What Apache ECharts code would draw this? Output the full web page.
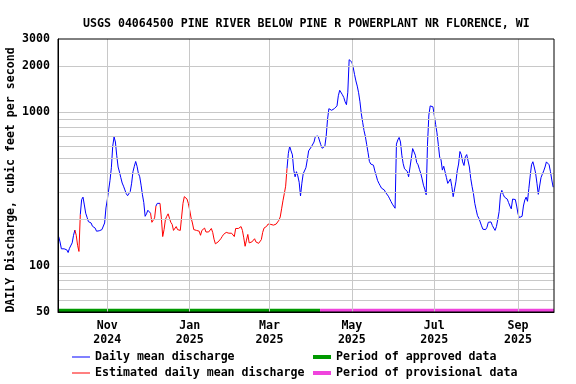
<!DOCTYPE html>
<html><head><meta charset="utf-8">
<script src="https://cdn.jsdelivr.net/npm/echarts@6/dist/echarts.min.js"></script>
<style>html,body{margin:0;padding:0;background:#fff}#c{width:576px;height:384px}</style>
</head><body><div id="c"></div>
<script>
const titleText = 'USGS 04064500 PINE RIVER BELOW PINE R POWERPLANT NR FLORENCE, WI';
const yAxisTitle = 'DAILY Discharge, cubic feet per second';
const firstDay = '2024-09-26';
// daily mean discharge, cfs, one value per day starting at firstDay
const discharge = [
155,143,129,129,129,129,127,122,130,133,
141,158,171,158,136,124,215,270,280,249,
220,207,194,194,190,181,180,176,168,166,
169,173,172,170,190,238,270,270,360,435,
600,690,640,520,440,408,375,346,330,312,
295,286,285,305,345,410,445,478,445,400,
380,335,290,258,210,218,230,228,220,192,
188,205,245,255,258,255,205,155,172,200,
210,218,204,192,186,170,172,180,172,173,
170,168,255,282,286,272,254,230,205,190,
172,170,170,168,168,158,170,172,176,166,
163,166,170,175,165,149,139,139,143,147,
150,155,160,162,165,165,163,165,163,163,
155,175,180,175,172,180,170,152,134,147,
160,141,141,143,145,150,143,140,140,140,
148,165,176,178,181,187,185,186,182,184,
188,187,190,198,208,235,265,295,330,430,
540,600,560,528,420,380,410,385,350,285,
345,398,405,435,490,560,560,595,580,640,
695,700,700,685,615,583,570,600,700,900,
1055,1050,1030,1035,1055,1065,1100,1280,1390,1350,
1300,1250,1170,1120,1350,2200,2140,2120,1960,1760,
1600,1480,1340,1170,980,860,760,695,615,545,
478,460,462,452,415,388,360,345,332,320,
325,312,300,292,284,273,262,252,245,237,
620,660,685,640,525,462,428,425,412,380,
385,500,580,568,525,470,455,425,400,368,
335,315,290,620,960,1100,1090,1085,960,835,
735,615,510,490,420,445,455,375,344,348,
368,328,282,285,352,415,460,555,530,475,
450,513,530,515,440,370,328,295,255,232,
212,204,193,182,173,172,172,178,192,194,
193,183,176,170,180,200,225,290,310,292,
280,282,272,258,245,235,272,280,270,245,
218,206,208,210,245,268,280,263,318,385,
455,476,440,402,345,292,290,375,395,415,
440,475,483,455,410,362,325
];
// day-index ranges (inclusive) of estimated values
const estimatedRanges = [[13,15],[69,71],[76,168]];
const approvedUntil = '2025-04-07T12:00';
const axisStart = '2024-09-25T12:00';
const axisEnd = '2025-09-27T15:00';
const monthTicks = ['2024-11-01','2025-01-01','2025-03-01','2025-05-01','2025-07-01','2025-09-01'];
const monthNames = ['Jan','Feb','Mar','Apr','May','Jun','Jul','Aug','Sep','Oct','Nov','Dec'];
const yTickLabels = [50,100,1000,2000,3000];
const yGridValues = [60,70,80,90,100,200,300,400,500,600,700,800,900,1000,2000];
const periodBarLevel = 51.1;
const seriesNames = ['Daily mean discharge', 'Estimated daily mean discharge', 'Period of approved data', 'Period of provisional data'];

function toTime(s){
  const [d,t] = s.split('T');
  const [y,m,dd] = d.split('-').map(Number);
  let h=0, mi=0;
  if (t) { [h,mi] = t.split(':').map(Number); }
  return Date.UTC(y, m-1, dd, h, mi);
}
const DAY = 86400000;
const t0 = toTime(firstDay);
const dayOf = s => (toTime(s) - t0) / DAY;
const isEst = i => estimatedRanges.some(r => i >= r[0] && i <= r[1]);
const isEstEdge = i => estimatedRanges.some(r => i >= r[0]-1 && i <= r[1]+1);
const blueData = discharge.map((v,i) => [i, isEst(i) ? null : v]);
const redData = discharge.map((v,i) => [i, isEstEdge(i) ? v : null]);

const FONT = 'DejaVu Sans Mono';
const txt = {fontFamily: FONT, fontWeight: 'bold', fontSize: 11.6, color: '#000'};

function legendItem(name, left, top, h) {
  return {data: [name], orient: 'horizontal', left: left, top: top, padding: 0,
    icon: 'rect', itemWidth: 18, itemHeight: h, selectedMode: false,
    textStyle: Object.assign({lineHeight: 14}, txt)};
}

const chart = echarts.init(document.getElementById('c'), null, {renderer: 'canvas'});
chart.setOption({
  animation: false,
  backgroundColor: '#fff',
  title: {text: titleText, left: 78, top: 12, textStyle: Object.assign({lineHeight: 14}, txt)},
  grid: {left: 58, top: 39, width: 496, height: 273, show: true, borderColor: '#000', borderWidth: 1, z: 10, backgroundColor: 'transparent'},
  graphic: [{type: 'text', x: 11, y: 180, rotation: Math.PI/2, style: {text: yAxisTitle, font: 'bold 11.6px "DejaVu Sans Mono"', fill: '#000', textAlign: 'center', textVerticalAlign: 'middle'}}],
  xAxis: {
    type: 'value', min: dayOf(axisStart), max: dayOf(axisEnd),
    axisLine: {show: true, onZero: false, lineStyle: {color: '#000', width: 1}}, z: 10,
    axisTick: {show: false}, splitLine: {show: false},
    axisLabel: Object.assign({customValues: monthTicks.map(dayOf), margin: 7, lineHeight: 14,
      formatter: v => { const d = new Date(t0 + v*DAY); return monthNames[d.getUTCMonth()] + '\n' + d.getUTCFullYear(); }}, txt)
  },
  yAxis: {
    type: 'log', logBase: 10, min: 50, max: 3000,
    axisLine: {show: true, lineStyle: {color: '#000', width: 1}}, z: 10,
    axisTick: {show: false}, splitLine: {show: false},
    axisLabel: Object.assign({customValues: yTickLabels, margin: 8, formatter: v => String(Math.round(v))}, txt)
  },
  legend: [
    legendItem(seriesNames[0], 72, 350, 1),
    legendItem(seriesNames[1], 72, 366, 1),
    legendItem(seriesNames[2], 313, 350, 4),
    legendItem(seriesNames[3], 313, 366, 4)
  ],
  series: [
    {name: 'gridlines', type: 'line', data: [], z: 1, silent: true,
     markLine: {silent: true, symbol: ['none','none'], label: {show: false}, animation: false,
       lineStyle: {color: '#c8c8c8', width: 1, type: 'solid'}, emphasis: {disabled: true},
       data: yGridValues.map(v => ({yAxis: v})).concat(monthTicks.map(t => ({xAxis: dayOf(t)})))}},
    {name: seriesNames[2], type: 'line', color: '#009900', showSymbol: false, z: 4, silent: true,
     lineStyle: {color: '#009900', width: 3.5},
     data: [[dayOf(axisStart), periodBarLevel], [dayOf(approvedUntil), periodBarLevel]]},
    {name: seriesNames[3], type: 'line', color: '#F044DD', showSymbol: false, z: 4, silent: true,
     lineStyle: {color: '#F044DD', width: 3.5},
     data: [[dayOf(approvedUntil), periodBarLevel], [dayOf(axisEnd), periodBarLevel]]},
    {name: seriesNames[0], type: 'line', color: '#0000FF', showSymbol: false, z: 3, silent: true,
     connectNulls: false, lineStyle: {color: '#0000FF', width: 1}, data: blueData},
    {name: seriesNames[1], type: 'line', color: '#FF0000', showSymbol: false, z: 3, silent: true,
     connectNulls: false, lineStyle: {color: '#FF0000', width: 1}, data: redData}
  ]
});
</script></body></html>
